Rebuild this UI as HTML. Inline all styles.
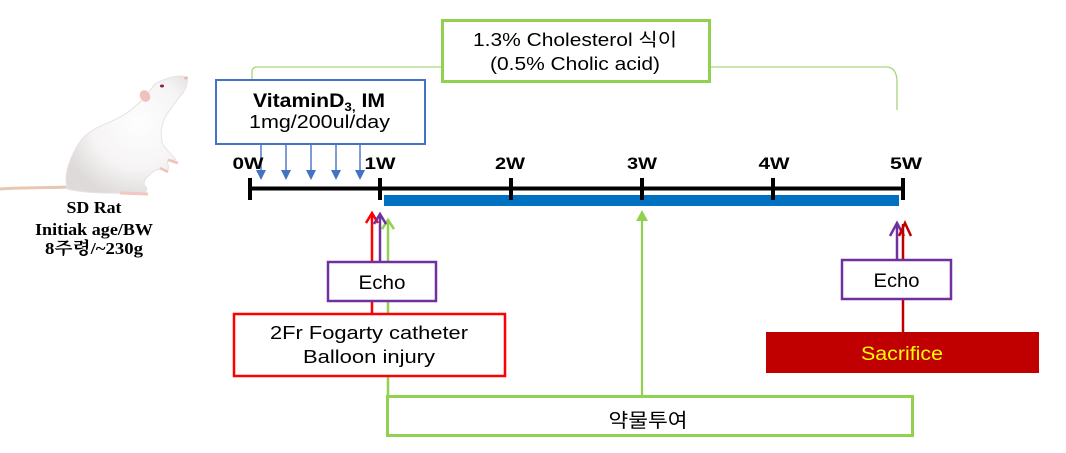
<!DOCTYPE html>
<html>
<head>
<meta charset="utf-8">
<style>
  html,body{margin:0;padding:0;background:#fff;}
  body{width:1066px;height:453px;overflow:hidden;}
  svg{display:block;}
  .s{font-family:"Liberation Sans","Noto Sans CJK KR",sans-serif;}
  .r{font-family:"Liberation Serif","Noto Serif CJK SC","Noto Sans CJK KR",serif;font-weight:bold;}
</style>
</head>
<body>
<svg width="1066" height="453" viewBox="0 0 1066 453" xmlns="http://www.w3.org/2000/svg">
  <defs>
    <radialGradient id="rb" cx="0.6" cy="0.4" r="0.65">
      <stop offset="0" stop-color="#fefefe"/>
      <stop offset="0.6" stop-color="#f6f4f4"/>
      <stop offset="1" stop-color="#dedada"/>
    </radialGradient>
  </defs>

  <!-- Rat -->
  <path d="M68,187 C50,188 22,187 0,189" stroke="#e6c7b2" stroke-width="3" fill="none"/>
  <path d="M187,78 C183,75 177,76 172,77 C165,79 160,81 155,84 C150,90 146,97 140,102 C132,110 124,116 112,121 C98,127 86,132 79,143 C71,156 66,168 66,180 L67,189 C80,192 95,193 110,193 L140,194 C146,193 148,190 146,187 C142,184 145,178 150,175 C154,170 158,168 163,170 L168,170 C170,166 166,163 168,160 L176,160 C173,155 165,150 162,142 C160,132 162,122 167,114 C173,106 178,98 183,93 C186,88 188,82 187,78 Z" fill="url(#rb)" stroke="#e6e2e2" stroke-width="1"/>
  <ellipse cx="145" cy="96" rx="5" ry="6" fill="#f0c2bc" transform="rotate(-30 145 96)"/>
  <ellipse cx="162" cy="86" rx="2" ry="1.5" fill="#7a2a30"/>
  <ellipse cx="186" cy="78" rx="2" ry="1.5" fill="#f0b8b4"/>
  <path d="M168,160 L178,163 M160,168 L168,172" stroke="#f0c2bc" stroke-width="2.5"/>
  <path d="M120,193 L148,194" stroke="#f0c8c0" stroke-width="3"/>

  <text class="r" x="94" y="213" font-size="17" text-anchor="middle" textLength="55" lengthAdjust="spacingAndGlyphs">SD Rat</text>
  <text class="r" x="94" y="235" font-size="17" text-anchor="middle" textLength="118" lengthAdjust="spacingAndGlyphs">Initiak age/BW</text>
  <text class="r" x="94" y="254" font-size="17" text-anchor="middle" textLength="98" lengthAdjust="spacingAndGlyphs">8주령/~230g</text>

  <!-- green bracket -->
  <path d="M252,79 L252,72 Q252,67 257,67 L441,67" stroke="#a6d67c" stroke-width="1.3" fill="none"/>
  <path d="M711,67 L886,67 Q896,67 897,80 L897,110" stroke="#a6d67c" stroke-width="1.3" fill="none"/>

  <!-- cholesterol box -->
  <rect x="442.5" y="20.5" width="267" height="61" fill="#fff" stroke="#92d050" stroke-width="3"/>
  <text class="s" x="575" y="46" font-size="18" text-anchor="middle" textLength="204" lengthAdjust="spacingAndGlyphs">1.3% Cholesterol 식이</text>
  <text class="s" x="575" y="70" font-size="18" text-anchor="middle" textLength="170" lengthAdjust="spacingAndGlyphs">(0.5% Cholic acid)</text>

  <!-- vitamin box -->
  <rect x="216" y="80" width="209" height="64" fill="#fff" stroke="#4472c4" stroke-width="2"/>
  <text class="s" x="319" y="107" font-size="19" font-weight="bold" text-anchor="middle" textLength="132" lengthAdjust="spacingAndGlyphs">VitaminD<tspan font-size="12" dy="4">3,</tspan><tspan dy="-4"> IM</tspan></text>
  <text class="s" x="319.5" y="128" font-size="18.5" text-anchor="middle" textLength="141" lengthAdjust="spacingAndGlyphs">1mg/200ul/day</text>

  <!-- blue arrows -->
  <g stroke="#4472c4" stroke-width="1.4">
    <line x1="261" y1="145" x2="261" y2="172"/>
    <line x1="286" y1="145" x2="286" y2="172"/>
    <line x1="311" y1="145" x2="311" y2="172"/>
    <line x1="336" y1="145" x2="336" y2="172"/>
    <line x1="360" y1="145" x2="360" y2="172"/>
  </g>
  <g fill="#4472c4">
    <polygon points="256,170 266,170 261,180"/>
    <polygon points="281,170 291,170 286,180"/>
    <polygon points="306,170 316,170 311,180"/>
    <polygon points="331,170 341,170 336,180"/>
    <polygon points="355,170 365,170 360,180"/>
  </g>

  <!-- week labels -->
  <g class="s" font-size="16.5" font-weight="bold" text-anchor="middle">
    <text x="248" y="169" textLength="31" lengthAdjust="spacingAndGlyphs">0W</text>
    <text x="380" y="169" textLength="31" lengthAdjust="spacingAndGlyphs">1W</text>
    <text x="510" y="169" textLength="30" lengthAdjust="spacingAndGlyphs">2W</text>
    <text x="642" y="169" textLength="30" lengthAdjust="spacingAndGlyphs">3W</text>
    <text x="774" y="169" textLength="31" lengthAdjust="spacingAndGlyphs">4W</text>
    <text x="906" y="169" textLength="32" lengthAdjust="spacingAndGlyphs">5W</text>
  </g>

  <!-- timeline -->
  <rect x="384" y="195" width="515" height="11" fill="#0070c0"/>
  <line x1="249" y1="188.5" x2="904" y2="188.5" stroke="#000" stroke-width="4"/>
  <g stroke="#000" stroke-width="4">
    <line x1="250" y1="178" x2="250" y2="200"/>
    <line x1="380" y1="178" x2="380" y2="200"/>
    <line x1="511" y1="178" x2="511" y2="200"/>
    <line x1="642" y1="178" x2="642" y2="200"/>
    <line x1="773" y1="178" x2="773" y2="200"/>
    <line x1="903" y1="178" x2="903" y2="200"/>
  </g>

  <!-- big green arrow (3W) -->
  <line x1="642" y1="218" x2="642" y2="396" stroke="#92d050" stroke-width="2.2"/>
  <polygon points="636,221 648,221 642,210" fill="#92d050"/>

  <!-- left arrows -->
  <line x1="388" y1="221" x2="388" y2="396" stroke="#92d050" stroke-width="2.5"/>
  <polyline points="382,229 388,220 394,229" fill="none" stroke="#92d050" stroke-width="2.5"/>
  <line x1="372" y1="214" x2="372" y2="313" stroke="#ff0000" stroke-width="2.5"/>
  <polyline points="366,223 372,213 378,223" fill="none" stroke="#ff0000" stroke-width="2.5"/>
  <line x1="380" y1="215" x2="380" y2="261" stroke="#7030a0" stroke-width="2.5"/>
  <polyline points="374,224 380,214 386,224" fill="none" stroke="#7030a0" stroke-width="2.5"/>

  <!-- left echo box -->
  <rect x="328" y="262" width="108" height="39" fill="#fff" stroke="#7030a0" stroke-width="2.5"/>
  <text class="s" x="382" y="289" font-size="19" text-anchor="middle" textLength="47" lengthAdjust="spacingAndGlyphs">Echo</text>

  <!-- red box -->
  <rect x="234" y="314" width="271" height="62" fill="#fff" stroke="#ff0000" stroke-width="2.5"/>
  <text class="s" x="369" y="339" font-size="18" text-anchor="middle" textLength="198" lengthAdjust="spacingAndGlyphs">2Fr Fogarty catheter</text>
  <text class="s" x="369" y="363" font-size="18" text-anchor="middle" textLength="132" lengthAdjust="spacingAndGlyphs">Balloon injury</text>

  <!-- right arrows -->
  <line x1="897" y1="224" x2="897" y2="259" stroke="#7030a0" stroke-width="2.5"/>
  <polyline points="890,236 897,223 904,236" fill="none" stroke="#7030a0" stroke-width="2.5"/>
  <line x1="903" y1="224" x2="903" y2="332" stroke="#c00000" stroke-width="2.5"/>
  <polyline points="899,236 905,223 911,236" fill="none" stroke="#c00000" stroke-width="2.5"/>

  <!-- right echo -->
  <rect x="842" y="260" width="109" height="39" fill="#fff" stroke="#7030a0" stroke-width="2.5"/>
  <text class="s" x="896.5" y="287" font-size="19" text-anchor="middle" textLength="46" lengthAdjust="spacingAndGlyphs">Echo</text>

  <!-- sacrifice -->
  <rect x="766" y="332" width="273" height="41" fill="#c00000"/>
  <text class="s" x="902" y="360" font-size="19" fill="#ffff00" text-anchor="middle" textLength="82" lengthAdjust="spacingAndGlyphs">Sacrifice</text>

  <!-- drug box -->
  <rect x="387.5" y="396.5" width="525" height="39" fill="#fff" stroke="#92d050" stroke-width="3"/>
  <text class="s" x="648" y="427" font-size="19.5" text-anchor="middle" textLength="79" lengthAdjust="spacingAndGlyphs">약물투여</text>
</svg>
</body>
</html>
